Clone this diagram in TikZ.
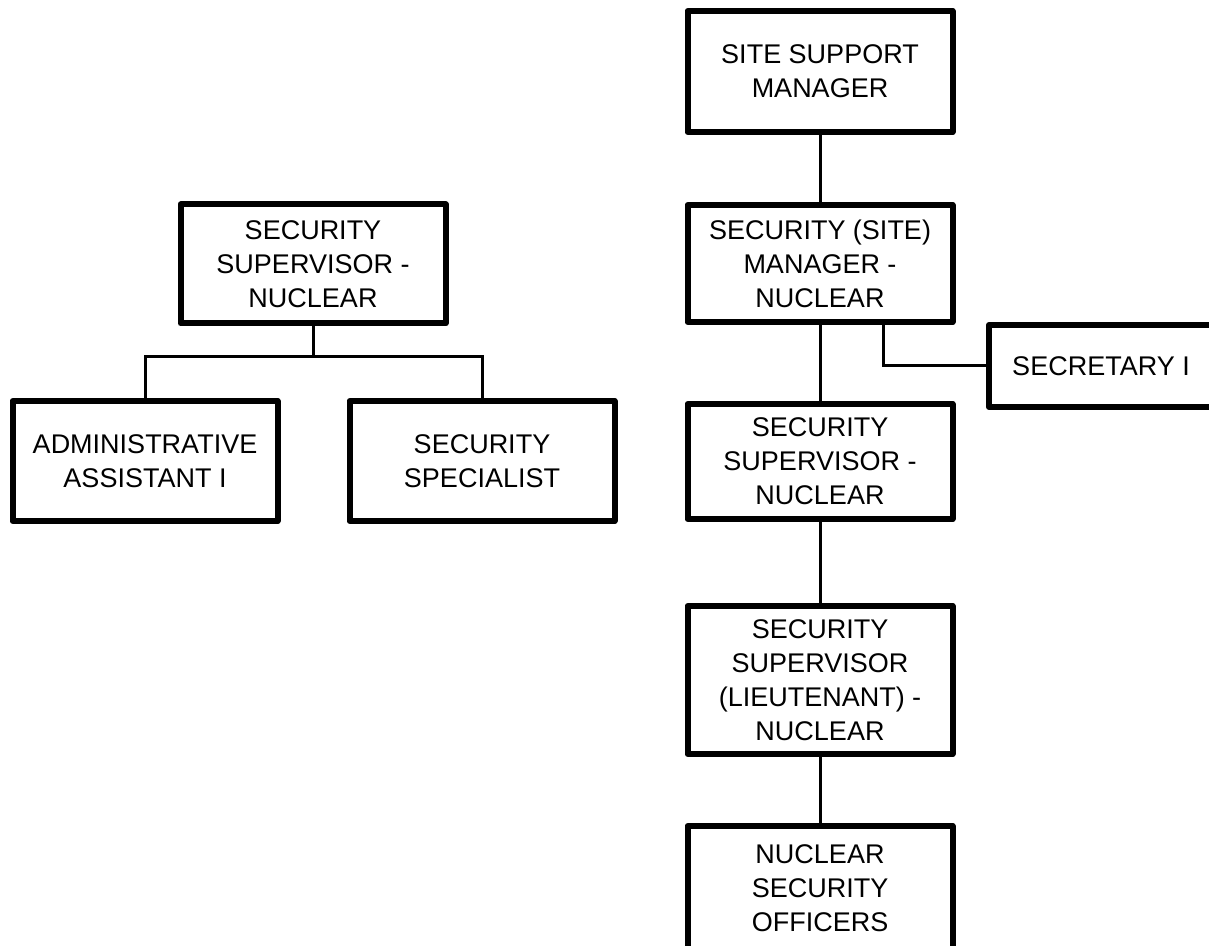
\documentclass[tikz,border=0pt]{standalone}
\usepackage{fontspec}
\setmainfont{Liberation Sans}

\begin{document}
\begin{tikzpicture}[x=1pt,y=1pt]
    \tikzstyle{post} = [draw,line width=6pt,line join=round,align=center,inner sep=0pt,minimum width=265pt,font=\fontsize{27}{34}\selectfont]
    \tikzstyle{link} = [line width=3pt]

    \useasboundingbox (0,0) rectangle (1209,945);
    \clip (0,0) rectangle (1209,945);

    % site chain
    \node[post,minimum height=121pt] (ssm)      at (820,873.5) {SITE SUPPORT\\MANAGER};
    \node[post,minimum height=117pt] (secmgr)   at (820,681.5) {SECURITY (SITE)\\MANAGER -\\NUCLEAR};
    \node[post,minimum height=115pt] (supv)     at (820,483.5) {SECURITY\\SUPERVISOR -\\NUCLEAR};
    \node[post,minimum height=148pt] (lt)       at (820,265)   {SECURITY\\SUPERVISOR\\(LIEUTENANT) -\\NUCLEAR};
    \node[post,minimum height=124pt] (officers) at (820,57)    {NUCLEAR\\SECURITY\\OFFICERS};
    \node[post,minimum width=224pt,minimum height=82pt] (sec) at (1101,579) {SECRETARY I};

    \draw[link] (ssm) -- (secmgr);
    \draw[link] (secmgr) -- (supv);
    \draw[link] (supv) -- (lt);
    \draw[link] (lt) -- (officers);
    \draw[link] ([xshift=63pt]secmgr.south) |- (sec.west);

    % supervisor with staff
    \node[post,minimum height=119pt] (lsupv) at (313,681) {SECURITY\\SUPERVISOR -\\NUCLEAR};
    \node[post,minimum height=120pt] (admin) at (145,484) {ADMINISTRATIVE\\ASSISTANT I};
    \node[post,minimum height=120pt] (spec)  at (482,484) {SECURITY\\SPECIALIST};

    \draw[link] (lsupv.south) -- ++(0,-30) coordinate (lfork);
    \draw[link] (admin.north) |- (lfork) -| (spec.north);
\end{tikzpicture}
\end{document}
